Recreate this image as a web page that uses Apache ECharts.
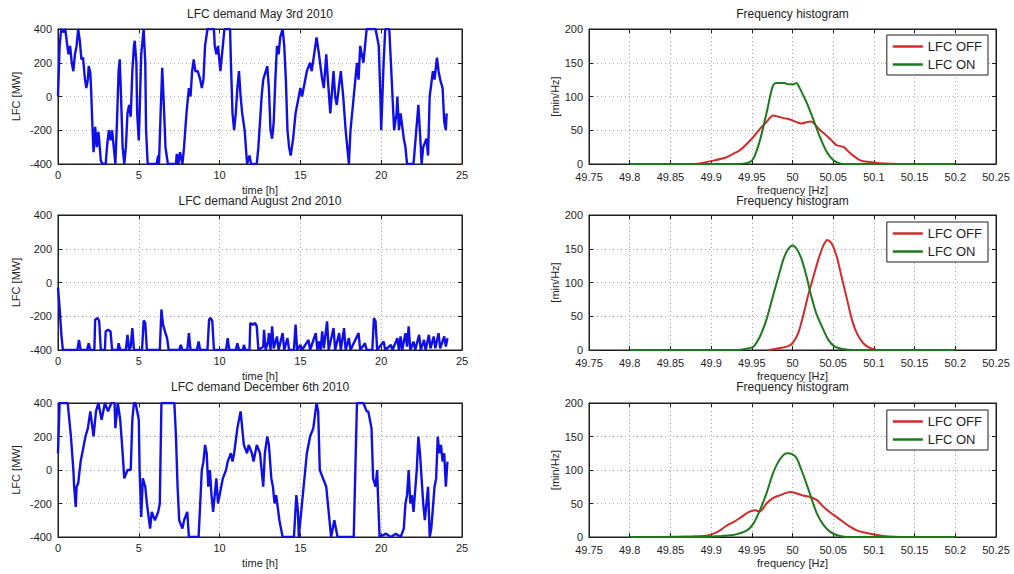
<!DOCTYPE html>
<html>
<head>
<meta charset="utf-8">
<title>LFC demand and frequency histograms</title>
<script src="https://cdn.jsdelivr.net/npm/echarts@6/dist/echarts.min.js"></script>
<style>
  html, body { margin: 0; padding: 0; background: #fff; }
  #chart { width: 1014px; height: 574px; }
</style>
</head>
<body>
<div id="chart"></div>
<script>
// ---- LFC demand time series: [hour, MW] ----
const demandMay = [
  [0,0],[0.1,300],[0.2,400],[0.35,380],[0.45,400],[0.55,320],[0.65,250],[0.75,300],[0.85,200],[0.95,150],
  [1.05,250],[1.15,300],[1.25,400],[1.35,330],[1.45,220],[1.55,230],[1.65,120],[1.75,50],[1.85,100],[1.9,180],
  [2.0,140],[2.05,40],[2.12,-150],[2.2,-330],[2.3,-180],[2.4,-300],[2.5,-210],[2.55,-260],[2.65,-380],[2.75,-400],
  [2.95,-400],[3.05,-280],[3.15,-200],[3.25,-260],[3.35,-200],[3.45,-300],[3.55,-400],[3.65,-150],[3.75,150],[3.82,220],
  [3.9,0],[4.0,-300],[4.1,-400],[4.2,-300],[4.3,-100],[4.4,-50],[4.5,-120],[4.6,150],[4.7,300],[4.75,330],
  [4.85,200],[4.9,-100],[5.0,-260],[5.05,-100],[5.15,250],[5.3,400],[5.4,200],[5.45,-200],[5.55,-400],[6.1,-400],
  [6.2,-350],[6.25,-400],[6.35,-100],[6.45,170],[6.55,-50],[6.65,-300],[6.8,-400],[7.3,-400],[7.35,-340],[7.45,-400],
  [7.55,-330],[7.7,-400],[7.8,-300],[7.95,-100],[8.1,50],[8.2,0],[8.3,150],[8.4,220],[8.5,150],[8.65,150],
  [8.8,100],[8.9,50],[9.0,100],[9.1,300],[9.25,400],[9.65,400],[9.7,300],[9.8,250],[9.9,300],[10.05,150],
  [10.2,300],[10.3,400],[10.65,400],[10.7,200],[10.8,-100],[10.9,-200],[11.0,-100],[11.1,50],[11.2,150],[11.3,0],
  [11.4,-100],[11.55,-200],[11.7,-400],[11.85,-350],[11.95,-400],[12.3,-400],[12.4,-300],[12.5,-150],[12.6,0],[12.7,100],
  [12.95,180],[13.05,50],[13.15,-200],[13.25,-250],[13.35,-150],[13.45,100],[13.55,300],[13.65,250],[13.75,350],[13.9,400],
  [14.0,300],[14.1,100],[14.2,-200],[14.3,-300],[14.4,-350],[14.55,-250],[14.7,-100],[14.9,0],[15.0,50],[15.1,0],
  [15.2,50],[15.4,150],[15.6,200],[15.7,150],[15.85,250],[16.0,350],[16.15,250],[16.35,100],[16.45,50],[16.6,250],
  [16.7,100],[16.85,-100],[17.05,150],[17.15,0],[17.25,-50],[17.5,150],[17.65,0],[17.8,-200],[18.0,-400],[18.1,-200],
  [18.3,0],[18.5,200],[18.6,100],[18.7,300],[18.9,200],[19.1,400],[19.65,400],[19.85,300],[19.95,0],[20.0,-200],
  [20.15,200],[20.25,400],[20.5,400],[20.6,200],[20.8,-200],[20.95,-100],[21.0,0],[21.1,-200],[21.2,-100],[21.4,-250],
  [21.5,-300],[21.6,-400],[22.0,-400],[22.3,-50],[22.45,-300],[22.5,-400],[22.6,-300],[22.8,-250],[22.9,-350],[23.0,0],
  [23.2,150],[23.3,100],[23.45,230],[23.55,150],[23.65,100],[23.8,50],[23.9,-150],[24.0,-200],[24.05,-100]
];

const demandAug = [
  [0,-30],[0.1,-150],[0.2,-300],[0.3,-400],[1.2,-400],[1.3,-340],[1.4,-400],[1.8,-400],[1.9,-360],[2.0,-400],
  [2.25,-400],[2.3,-220],[2.45,-210],[2.55,-230],[2.65,-400],[2.9,-400],[2.95,-290],[3.1,-280],[3.25,-290],[3.35,-400],
  [3.7,-400],[3.75,-360],[3.85,-400],[4.2,-400],[4.3,-310],[4.4,-400],[4.5,-380],[4.6,-270],[4.7,-400],[5.2,-400],
  [5.3,-225],[5.4,-240],[5.5,-400],[6.3,-400],[6.4,-160],[6.5,-250],[6.65,-300],[6.75,-330],[6.85,-400],[7.5,-400],
  [7.6,-370],[7.7,-400],[8.0,-400],[8.1,-300],[8.2,-400],[8.6,-400],[8.7,-350],[8.8,-400],[9.25,-400],[9.35,-220],
  [9.45,-210],[9.55,-230],[9.65,-400],[10.4,-400],[10.5,-330],[10.6,-400],[11.0,-400],[11.1,-360],[11.2,-400],[11.45,-400],
  [11.5,-370],[11.6,-400],[11.85,-400],[11.9,-240],[12.05,-250],[12.2,-240],[12.3,-260],[12.4,-400],[12.7,-380],[12.75,-280],
  [12.85,-400],[13.0,-350],[13.05,-300],[13.15,-400],[13.25,-260],[13.35,-390],[13.55,-320],[13.65,-400],[13.9,-300],[14.0,-400],
  [14.2,-330],[14.3,-400],[14.6,-400],[14.7,-250],[14.8,-400],[15.0,-370],[15.1,-400],[15.5,-340],[15.6,-400],[15.95,-300],
  [16.05,-400],[16.15,-350],[16.25,-400],[16.35,-290],[16.45,-390],[16.65,-230],[16.75,-400],[17.05,-270],[17.15,-400],[17.4,-300],
  [17.5,-400],[17.7,-270],[17.8,-400],[18.0,-330],[18.1,-400],[18.6,-300],[18.7,-400],[19.0,-360],[19.1,-400],[19.45,-400],
  [19.55,-210],[19.65,-230],[19.75,-400],[20.15,-350],[20.25,-400],[20.6,-370],[20.7,-400],[21.0,-330],[21.1,-400],[21.2,-320],
  [21.3,-400],[21.5,-300],[21.6,-380],[21.7,-260],[21.8,-400],[22.0,-350],[22.1,-400],[22.35,-310],[22.45,-400],[22.65,-340],
  [22.75,-400],[22.95,-310],[23.05,-390],[23.25,-320],[23.35,-390],[23.55,-300],[23.65,-390],[23.9,-320],[24.0,-380],[24.1,-330]
];

const demandDec = [
  [0,100],[0.1,400],[0.6,400],[0.8,200],[0.95,0],[1.0,-100],[1.1,-220],[1.15,-100],[1.25,-80],[1.4,50],
  [1.7,200],[1.85,250],[2.0,350],[2.2,200],[2.35,350],[2.5,400],[2.7,300],[2.9,400],[3.1,350],[3.3,400],
  [3.5,400],[3.55,250],[3.7,400],[3.85,300],[4.0,100],[4.1,-50],[4.3,0],[4.5,0],[4.6,300],[4.7,400],
  [4.8,400],[5.0,300],[5.05,0],[5.15,-280],[5.25,-50],[5.4,-100],[5.5,-200],[5.7,-350],[5.8,-250],[6.0,-300],
  [6.2,-250],[6.3,-200],[6.4,400],[7.2,400],[7.3,200],[7.4,-100],[7.5,-300],[7.7,-350],[7.8,-300],[8.0,-250],
  [8.1,-400],[8.7,-400],[8.8,-200],[8.9,0],[9.0,50],[9.1,150],[9.2,100],[9.3,-100],[9.4,0],[9.5,-150],
  [9.6,-250],[9.7,-150],[9.8,-50],[9.9,-200],[10.0,-150],[10.2,-50],[10.4,0],[10.5,50],[10.7,100],[10.8,50],
  [10.9,100],[11.1,250],[11.3,350],[11.4,250],[11.5,150],[11.7,100],[11.8,150],[12.0,100],[12.1,50],[12.3,150],
  [12.5,100],[12.7,-100],[12.8,100],[12.95,200],[13.05,150],[13.2,-50],[13.3,-100],[13.4,-200],[13.5,-150],[13.7,-300],
  [13.9,-400],[14.6,-400],[14.75,-150],[14.85,-250],[14.9,-400],[15.0,-300],[15.2,-100],[15.4,100],[15.6,200],[15.8,250],
  [16.0,400],[16.1,350],[16.2,0],[16.4,-50],[16.6,-100],[16.7,-200],[16.9,-400],[17.1,-300],[17.3,-400],[18.3,-400],
  [18.5,400],[18.9,400],[19.1,350],[19.2,350],[19.4,250],[19.5,-50],[19.65,-100],[19.75,0],[19.8,-150],[19.9,-400],
  [20.3,-380],[20.6,-400],[20.9,-380],[21.2,-400],[21.4,-350],[21.5,-200],[21.6,-150],[21.7,0],[21.8,-200],[21.9,-150],
  [22.0,-250],[22.2,0],[22.3,200],[22.4,100],[22.6,-200],[22.7,-300],[22.8,-200],[22.9,-100],[23.0,-400],[23.1,-350],
  [23.3,-100],[23.4,-50],[23.5,200],[23.6,100],[23.7,150],[23.8,50],[23.9,100],[24.0,-100],[24.1,50]
];

// ---- Frequency histograms: [Hz, min/Hz] ----
const histMayOff = [
  [49.882,0],[49.903,5],[49.919,10],[49.927,15],[49.935,20],[49.944,30],[49.952,40],[49.96,52],[49.968,62],[49.976,72],
  [49.983,70],[49.989,68],[49.997,66],[50.005,62],[50.011,60],[50.017,62],[50.023,63],[50.028,58],[50.034,50],[50.042,42],
  [50.048,35],[50.054,28],[50.063,25],[50.069,18],[50.075,12],[50.081,7],[50.087,4],[50.095,3],[50.108,1],[50.128,0]
];
const histMayOn = [
  [49.8,0],[49.93,0],[49.946,2],[49.952,8],[49.96,35],[49.968,75],[49.974,108],[49.977,118],[49.98,120],[49.99,120],
  [49.995,118],[50.0,118],[50.005,120],[50.009,112],[50.017,92],[50.025,68],[50.033,42],[50.042,18],[50.05,6],[50.058,1],
  [50.065,0],[50.2,0]
];
const histAugOff = [
  [49.97,0],[49.98,2],[49.993,5],[50.0,10],[50.007,25],[50.013,50],[50.019,80],[50.026,110],[50.032,135],[50.038,155],
  [50.043,163],[50.048,158],[50.054,140],[50.06,110],[50.067,75],[50.073,45],[50.079,25],[50.087,10],[50.095,3],[50.104,0]
];
const histAugOn = [
  [49.8,0],[49.93,0],[49.944,2],[49.952,5],[49.96,20],[49.968,45],[49.976,80],[49.983,110],[49.989,135],[49.995,150],
  [50.0,155],[50.005,150],[50.011,135],[50.017,110],[50.023,80],[50.029,55],[50.036,35],[50.044,15],[50.052,5],[50.063,1],
  [50.075,0],[50.2,0]
];
const histDecOff = [
  [49.833,0],[49.878,1],[49.894,2],[49.903,5],[49.911,10],[49.919,17],[49.927,22],[49.935,28],[49.946,37],[49.954,40],
  [49.96,38],[49.968,50],[49.976,58],[49.984,62],[49.997,67],[50.005,65],[50.013,62],[50.021,60],[50.03,55],[50.038,45],
  [50.046,37],[50.054,30],[50.063,22],[50.071,15],[50.079,10],[50.087,7],[50.095,5],[50.104,3],[50.116,1],[50.132,0]
];
const histDecOn = [
  [49.8,0],[49.89,0],[49.907,1],[49.927,3],[49.944,10],[49.952,20],[49.96,40],[49.968,65],[49.976,95],[49.984,115],
  [49.993,125],[49.999,124],[50.005,118],[50.011,100],[50.017,80],[50.024,55],[50.03,35],[50.038,18],[50.046,8],[50.054,3],
  [50.067,0],[50.2,0]
];

const demandTitles = ['LFC demand May 3rd 2010', 'LFC demand August 2nd 2010', 'LFC demand December 6th 2010'];
const histTitle = 'Frequency histogram';
const legendNames = ['LFC OFF', 'LFC ON'];

// ---- layout ----
const FONT = '"Liberation Sans", Arial, sans-serif';
const INK = '#1e1e1e';
const rows = [{ top: 29, height: 135 }, { top: 215, height: 135 }, { top: 403, height: 134 }];
const cols = [{ left: 58, width: 404 }, { left: 589, width: 407 }];
const titleTops = [8, 195, 381];
const legendTops = [35, 222, 410];

const grids = [], xAxes = [], yAxes = [], series = [], titles = [], legends = [];

// Each panel gets a full box: labelled bottom/left axes plus tick-only top/right axes
function boxAxes(gi, xr, yr, xName, yName, yGap, xMargin) {
  const tick = { show: true, inside: true, length: 4, lineStyle: { color: INK, width: 1 } };
  const line = { show: true, onZero: false, lineStyle: { color: INK, width: 1 } };
  const grid = { show: true, color: '#a8a8a8', type: [1, 3], width: 1 };
  const lbl = { color: INK, fontFamily: FONT, fontSize: 11 };
  xAxes.push({
    type: 'value', gridIndex: gi, position: 'bottom', min: xr[0], max: xr[1], interval: xr[2],
    axisLine: line, axisTick: tick, axisLabel: Object.assign({ margin: xMargin }, lbl),
    splitLine: { show: true, lineStyle: grid },
    name: xName, nameLocation: 'middle', nameGap: 20, nameTextStyle: Object.assign({}, lbl)
  });
  xAxes.push({
    type: 'value', gridIndex: gi, position: 'top', min: xr[0], max: xr[1], interval: xr[2],
    axisLine: line, axisTick: tick, axisLabel: { show: false }, splitLine: { show: false }
  });
  yAxes.push({
    type: 'value', gridIndex: gi, position: 'left', min: yr[0], max: yr[1], interval: yr[2],
    axisLine: line, axisTick: tick, axisLabel: Object.assign({ margin: 6 }, lbl),
    splitLine: { show: true, lineStyle: grid },
    name: yName, nameLocation: 'middle', nameGap: yGap, nameRotate: 90, nameTextStyle: Object.assign({}, lbl)
  });
  yAxes.push({
    type: 'value', gridIndex: gi, position: 'right', min: yr[0], max: yr[1], interval: yr[2],
    axisLine: line, axisTick: tick, axisLabel: { show: false }, splitLine: { show: false }
  });
}

const demandSets = [demandMay, demandAug, demandDec];
const histSets = [[histMayOff, histMayOn], [histAugOff, histAugOn], [histDecOff, histDecOn]];

rows.forEach((r, i) => {
  // left column: LFC demand
  const gL = grids.length;
  grids.push({ left: cols[0].left, width: cols[0].width, top: r.top, height: r.height, show: true,
    borderColor: INK, borderWidth: 1, backgroundColor: '#fff' });
  boxAxes(gL, [0, 25, 5], [-400, 400, 200], 'time [h]', 'LFC [MW]', 37, 5);
  series.push({
    name: demandTitles[i], type: 'line', xAxisIndex: gL * 2, yAxisIndex: gL * 2,
    data: demandSets[i], symbol: 'none', lineStyle: { color: '#1010e6', width: 2.4 }, z: 3
  });
  titles.push({ text: demandTitles[i], left: cols[0].left + cols[0].width / 2, top: titleTops[i],
    textAlign: 'center', padding: 0,
    textStyle: { fontFamily: FONT, fontSize: 12, fontWeight: 'normal', color: INK } });

  // right column: frequency histogram
  const gR = grids.length;
  grids.push({ left: cols[1].left, width: cols[1].width, top: r.top, height: r.height, show: true,
    borderColor: INK, borderWidth: 1, backgroundColor: '#fff' });
  boxAxes(gR, [49.75, 50.25, 0.05], [0, 200, 50], 'frequency [Hz]', '[min/Hz]', 27, 7);
  series.push({
    name: legendNames[0], type: 'line', xAxisIndex: gR * 2, yAxisIndex: gR * 2,
    data: histSets[i][0], symbol: 'none', smooth: 0.25, lineStyle: { color: '#d22a2a', width: 2 }, itemStyle: { color: '#d22a2a' }, z: 3
  });
  series.push({
    name: legendNames[1], type: 'line', xAxisIndex: gR * 2, yAxisIndex: gR * 2,
    data: histSets[i][1], symbol: 'none', smooth: 0.25, lineStyle: { color: '#1c7a1c', width: 2 }, itemStyle: { color: '#1c7a1c' }, z: 4
  });
  titles.push({ text: histTitle, left: cols[1].left + cols[1].width / 2, top: titleTops[i],
    textAlign: 'center', padding: 0,
    textStyle: { fontFamily: FONT, fontSize: 12, fontWeight: 'normal', color: INK } });
  legends.push({
    data: legendNames, orient: 'vertical', right: 26, top: legendTops[i],
    backgroundColor: '#fff', borderColor: INK, borderWidth: 1, borderRadius: 0,
    padding: [5, 6, 4, 6], itemGap: 5, itemWidth: 30, itemHeight: 2.5, icon: 'rect', selectedMode: false,
    textStyle: { fontFamily: FONT, fontSize: 13, color: INK }
  });
});

const chart = echarts.init(document.getElementById('chart'), null, { renderer: 'svg' });
chart.setOption({
  backgroundColor: '#fff',
  animation: false,
  title: titles,
  legend: legends,
  grid: grids.map(g => Object.assign({ outerBoundsMode: 'none' }, g)),
  xAxis: xAxes,
  yAxis: yAxes,
  series: series
});
</script>
</body>
</html>
